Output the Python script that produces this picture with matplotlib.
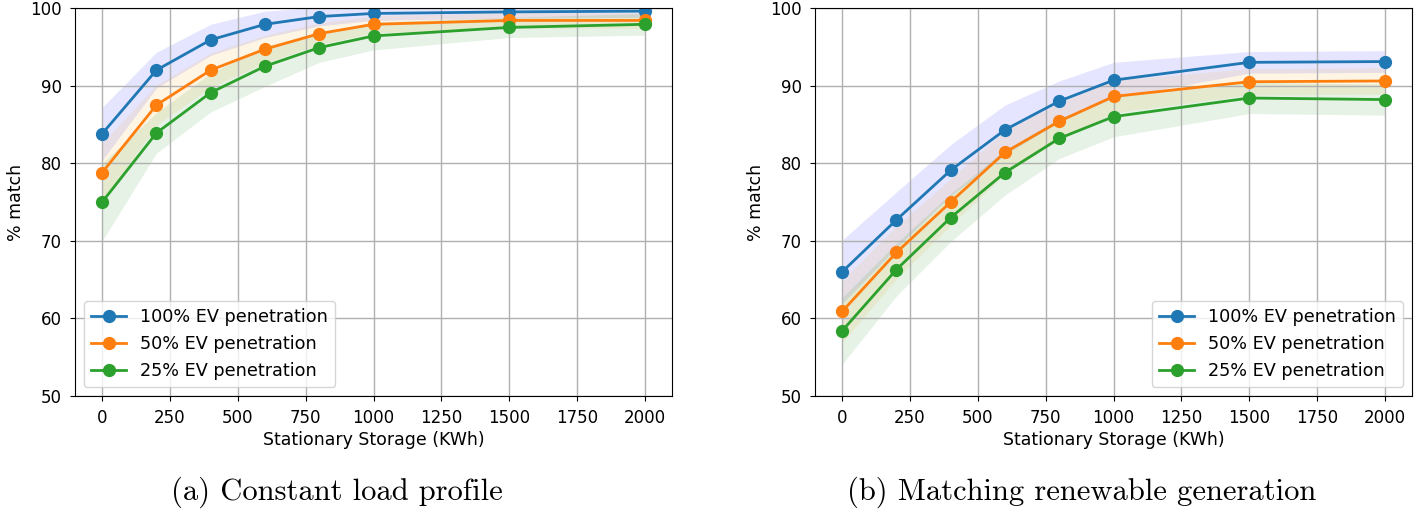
"""
Percent match vs stationary storage, two load scenarios
"""
import matplotlib.pyplot as plt
import numpy as np

# Data
storage = [0, 200, 400, 600, 800, 1000, 1500, 2000]
labels = ['100% EV penetration', '50% EV penetration', '25% EV penetration']

# (a) constant load profile
const_mean = {
    '100': [83.8, 92.0, 95.9, 97.9, 98.9, 99.3, 99.5, 99.6],
    '50': [78.8, 87.5, 92.0, 94.7, 96.7, 97.9, 98.4, 98.4],
    '25': [75.0, 83.9, 89.1, 92.5, 94.9, 96.4, 97.5, 97.9],
}
const_std = {
    '100': [3.4, 2.3, 2.0, 1.7, 1.2, 0.9, 0.8, 0.8],
    '50': [3.8, 2.6, 2.2, 1.8, 1.4, 1.1, 1.0, 1.0],
    '25': [5.0, 2.6, 2.5, 2.6, 1.9, 1.8, 1.3, 1.4],
}

# (b) matching renewable generation
renew_mean = {
    '100': [66.0, 72.7, 79.1, 84.3, 88.0, 90.7, 93.0, 93.1],
    '50': [60.9, 68.5, 75.0, 81.4, 85.4, 88.6, 90.5, 90.6],
    '25': [58.4, 66.3, 73.0, 78.8, 83.2, 86.0, 88.4, 88.2],
}
renew_std = {
    '100': [4.1, 3.6, 3.3, 3.2, 2.6, 2.3, 1.4, 1.4],
    '50': [4.0, 3.4, 3.0, 2.8, 2.4, 2.1, 1.7, 1.7],
    '25': [4.3, 3.4, 3.1, 2.9, 2.6, 2.6, 2.0, 2.0],
}

keys = ['100', '50', '25']
line_colors = ['tab:blue', 'tab:orange', 'tab:green']
band_colors = ['blue', 'orange', 'green']

fig = plt.figure(figsize=(14.16, 5.14), dpi=100)
ax_a = fig.add_axes([0.0530, 0.2296, 0.4216, 0.7548])
ax_b = fig.add_axes([0.5756, 0.2296, 0.4216, 0.7548])


def draw_panel(ax, means, stds, legend_loc):
    x = np.array(storage)
    for key, lc, bc, lab in zip(keys, line_colors, band_colors, labels):
        m = np.array(means[key])
        s = np.array(stds[key])
        ax.fill_between(x, m - s, m + s, color=bc, alpha=0.1, linewidth=0)
        ax.plot(x, m, marker='o', color=lc, markersize=8.5, linewidth=2, label=lab)
    ax.set_ylim(50, 100)
    ax.set_xticks([0, 250, 500, 750, 1000, 1250, 1500, 1750, 2000])
    ax.set_xlabel('Stationary Storage (KWh)', fontsize=12.5, labelpad=3)
    ax.set_ylabel('% match', fontsize=12.5, labelpad=4)
    ax.tick_params(labelsize=12, pad=6)
    ax.grid(True, color='#b0b0b0', linewidth=1.0)
    ax.legend(loc=legend_loc, fontsize=12.7)


draw_panel(ax_a, const_mean, const_std, 'lower left')
draw_panel(ax_b, renew_mean, renew_std, 'lower right')

# Subfigure captions
fig.text(0.238, 0.042, '(a) Constant load profile', fontsize=22,
         family='cmr10', ha='center', va='center')
fig.text(0.764, 0.042, '(b) Matching renewable generation', fontsize=22,
         family='cmr10', ha='center', va='center')

plt.savefig('out.png', dpi=100)
plt.close()
